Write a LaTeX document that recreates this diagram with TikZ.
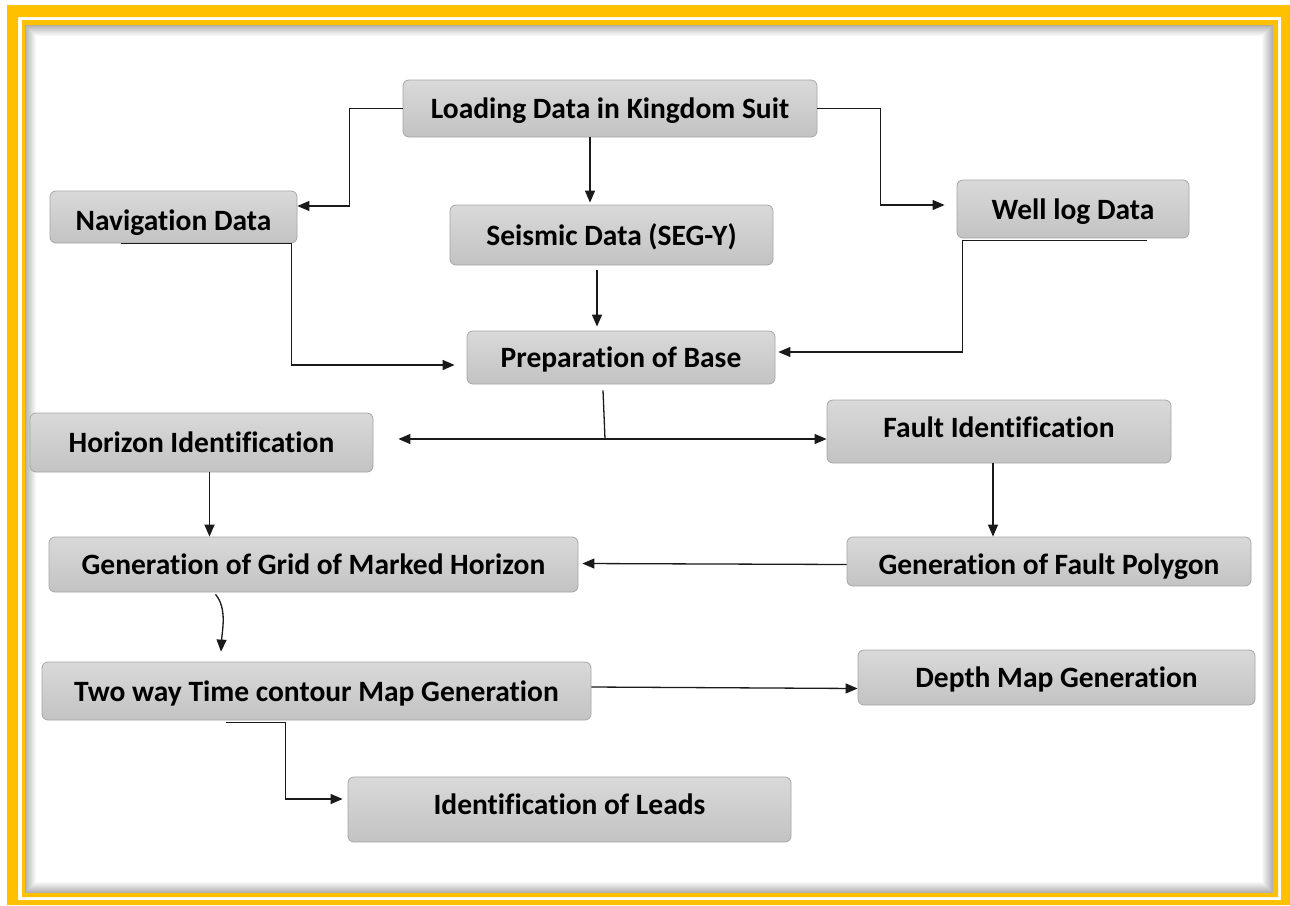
\documentclass[tikz,border=0pt]{standalone}
\usepackage{fontspec}
\setmainfont{Carlito}[Ligatures=NoCommon]
\usetikzlibrary{arrows.meta,calc}
\definecolor{frameyellow}{HTML}{FFC000}
\definecolor{boxedge}{HTML}{A6A6A6}
\definecolor{boxtop}{HTML}{D9D9D9}
\definecolor{boxbot}{HTML}{C3C3C3}
\definecolor{linecol}{HTML}{1A1A1A}
\tikzset{
  stepbox/.style={draw=boxedge, line width=0.8pt, rounded corners=6pt,
    top color=boxtop, bottom color=boxbot, inner sep=0pt,
    text height=27pt, text depth=7pt,
    font=\fontsize{29.5}{32}\selectfont\bfseries, text=black},
  link/.style={draw=linecol, line width=1.3pt},
  arr/.style={link, -{Triangle[length=12pt,width=10pt]}},
  arrboth/.style={link, {Triangle[length=12pt,width=10pt]}-{Triangle[length=12pt,width=10pt]}}
}
\begin{document}
\begin{tikzpicture}[x=1pt,y=-1pt]
% page and frame
\fill[white] (0,0) rectangle (1290,905);
\useasboundingbox (0,0) rectangle (1290,905);
\fill[frameyellow, even odd rule] (7,5) rectangle (1290,905) (18,17) rectangle (1281,900);
\fill[frameyellow, even odd rule] (22,20) rectangle (1278,897) (25,25) rectangle (1273,893);
\foreach \i in {0,...,10} {
  \draw[black, opacity={0.30*(1-\i/11)}, line width=1pt]
    (25.5+\i,25.5+\i) rectangle (1272.5-\i,892.5-\i);
}

% process boxes
\node[stepbox, minimum width=414pt, minimum height=57pt] (load) at (610,108.5) {Loading Data in Kingdom Suit};
\node[stepbox, minimum width=247pt, minimum height=52pt, text height=34pt] (nav) at (173.5,217) {Navigation Data};
\node[stepbox, minimum width=323pt, minimum height=60pt] (seis) at (611.5,235) {Seismic Data (SEG-Y)};
\node[stepbox, minimum width=232pt, minimum height=58pt] (well) at (1073,209) {Well log Data};
\node[stepbox, minimum width=308pt, minimum height=53pt] (prep) at (621,357.5) {Preparation of Base};
\node[stepbox, minimum width=343pt, minimum height=59pt] (hor) at (201.5,442.5) {Horizon Identification};
\node[stepbox, minimum width=344pt, minimum height=63pt, text height=22pt, text depth=11pt] (fault) at (999,431.5) {Fault Identification};
\node[stepbox, minimum width=529pt, minimum height=55pt] (grid) at (313.5,564.5) {Generation of Grid of Marked Horizon};
\node[stepbox, minimum width=404pt, minimum height=49pt, text height=32pt] (poly) at (1049,561.5) {Generation of Fault Polygon};
\node[stepbox, minimum width=549pt, minimum height=58pt] (tw) at (316.5,691) {Two way Time contour Map Generation};
\node[stepbox, minimum width=397pt, minimum height=55pt] (dep) at (1056.5,677.5) {Depth Map Generation};
\node[stepbox, minimum width=443pt, minimum height=65pt, text height=22pt, text depth=12pt] (lead) at (569.5,809.5) {Identification of Leads};

% junction below the base map
\coordinate (j) at (605,439);

% connectors
\draw[arr] (load.west) -- ++(-53,0) |- ([yshift=11pt]nav.east);
\draw[arr] ([xshift=-20pt]load.south) -- ([xshift=-21.5pt,yshift=2pt]seis.north);
\draw[arr] (load.east) -- ++(63,0) |- ([yshift=4pt,xshift=-12pt]well.west);
\draw[arr] ([xshift=-53pt]nav.south) -- ([xshift=-6pt]nav.south east) |- ([yshift=-7.5pt,xshift=-12pt]prep.west);
\draw[arr] ([xshift=-14.5pt,yshift=-5pt]seis.south) -- ([xshift=-24pt,yshift=4pt]prep.north);
\draw[arr] ([xshift=74pt,yshift=-2pt]well.south) -- ([xshift=6pt,yshift=-2pt]well.south west) |- ([yshift=5.5pt,xshift=3pt]prep.east);
\draw[link] ([xshift=-18pt,yshift=-6pt]prep.south) -- (j);
\path (j -| hor.east) ++(25,0) coordinate (hl);
\draw[arrboth] (hl) -- (j -| fault.west);
\draw[arr] ([xshift=8pt]hor.south) -- ([xshift=8pt]hor.south |- grid.north);
\draw[arr] ([xshift=-6pt]fault.south) -- ([xshift=-6pt]fault.south |- poly.north);
\draw[arr] ([yshift=-3pt]poly.west) -- ([xshift=4pt,yshift=1pt]grid.east);
\draw[arr] ([xshift=-98pt,yshift=-2pt]grid.south) .. controls +(12,14) and +(1,-20) .. ([xshift=-95.5pt,yshift=10pt]tw.north);
\draw[arr] ([yshift=4pt]tw.east) -- ([yshift=-11pt]dep.west);
\draw[arr] ([xshift=-91pt,yshift=-2pt]tw.south) -- ([xshift=-31pt,yshift=-2pt]tw.south) |- ([yshift=10.5pt,xshift=-5pt]lead.west);
\end{tikzpicture}
\end{document}
